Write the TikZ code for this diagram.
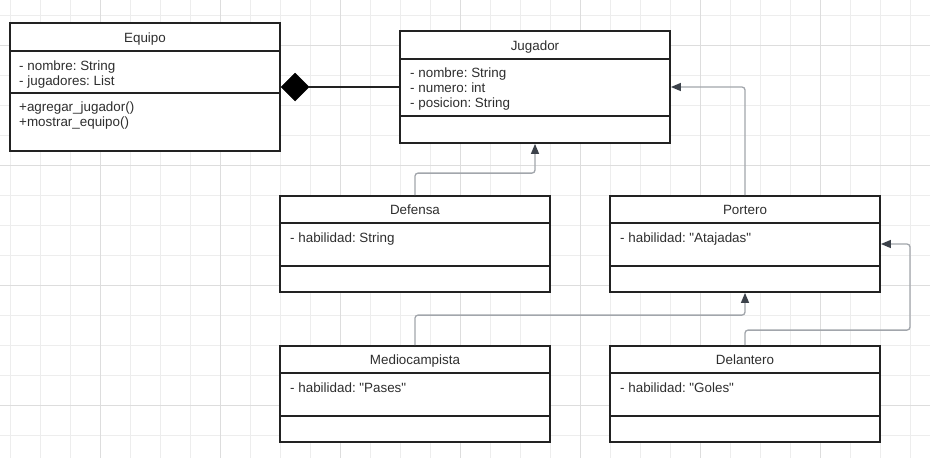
\documentclass[tikz,border=0pt]{standalone}
\usepackage{fontspec}
\setmainfont{Liberation Sans}[Ligatures=TeXOff]
\usetikzlibrary{shapes.geometric,arrows.meta}
\definecolor{gridminor}{HTML}{EDEDED}
\definecolor{gridmajor}{HTML}{DDDDDD}
\definecolor{boxline}{HTML}{222222}
\definecolor{txtcol}{HTML}{2E2E2E}
\definecolor{conncol}{HTML}{A2A6AC}
\definecolor{tipcol}{HTML}{3C424A}
\tikzset{
  cls/.style={draw=boxline, line width=1.8pt, fill=white, rectangle, inner sep=0pt, minimum width=270pt},
  divline/.style={draw=boxline, line width=1.8pt},
  txt/.style={text=txtcol, font=\fontsize{13.4}{15}\selectfont\frenchspacing, inner sep=0pt},
  conn/.style={draw=conncol, line width=1.3pt, rounded corners=3pt, -{Triangle[length=10pt,width=8pt,color=tipcol]}},
}
\begin{document}
\begin{tikzpicture}[x=1pt,y=-1pt]
\useasboundingbox (0,0) rectangle (930,458);
\fill[white] (0,0) rectangle (930,458);
% grid
\foreach \k in {0,...,30}{\draw[gridminor, line width=1pt] (10.5+30*\k,0) -- (10.5+30*\k,458);}
\foreach \k in {0,...,14}{\draw[gridminor, line width=1pt] (0,15+30*\k) -- (930,15+30*\k);}
\foreach \k in {3,7,...,27}{\draw[gridmajor, line width=1pt] (10.5+30*\k,0) -- (10.5+30*\k,458);}
\foreach \k in {1,5,9,13}{\draw[gridmajor, line width=1pt] (0,15+30*\k) -- (930,15+30*\k);}

% Equipo
\node[cls, minimum height=128pt] (equipo) at (145,87) {};
\draw[divline] (equipo.west |- 0,51) -- (equipo.east |- 0,51);
\draw[divline] (equipo.west |- 0,93) -- (equipo.east |- 0,93);
\node[txt, anchor=base] (equipoT) at (145,42) {Equipo};
\node[txt, anchor=base west] (equipoA1) at (19,70) {- nombre: String};
\node[txt, anchor=base west] (equipoA2) at (19,85) {- jugadores: List};
\node[txt, anchor=base west] (equipoM1) at (19,111) {+agregar\_jugador()};
\node[txt, anchor=base west] (equipoM2) at (19,126) {+mostrar\_equipo()};

% Jugador
\node[cls, minimum height=112pt] (jugador) at (535,87) {};
\draw[divline] (jugador.west |- 0,59) -- (jugador.east |- 0,59);
\draw[divline] (jugador.west |- 0,116) -- (jugador.east |- 0,116);
\node[txt, anchor=base] (jugadorT) at (535,50) {Jugador};
\node[txt, anchor=base west] (jugadorA1) at (410,77) {- nombre: String};
\node[txt, anchor=base west] (jugadorA2) at (410,92) {- numero: int};
\node[txt, anchor=base west] (jugadorA3) at (410,107) {- posicion: String};

% Defensa
\node[cls, minimum height=96pt] (defensa) at (415,244) {};
\draw[divline] (defensa.west |- 0,223) -- (defensa.east |- 0,223);
\draw[divline] (defensa.west |- 0,266) -- (defensa.east |- 0,266);
\node[txt, anchor=base] (defensaT) at (415,214) {Defensa};
\node[txt, anchor=base west] (defensaA) at (290,242) {- habilidad: String};

% Portero
\node[cls, minimum height=96pt] (portero) at (745,244) {};
\draw[divline] (portero.west |- 0,223) -- (portero.east |- 0,223);
\draw[divline] (portero.west |- 0,266) -- (portero.east |- 0,266);
\node[txt, anchor=base] (porteroT) at (745,214) {Portero};
\node[txt, anchor=base west] (porteroA) at (620,242) {- habilidad: "Atajadas"};

% Mediocampista
\node[cls, minimum height=96pt] (medio) at (415,394) {};
\draw[divline] (medio.west |- 0,373) -- (medio.east |- 0,373);
\draw[divline] (medio.west |- 0,416) -- (medio.east |- 0,416);
\node[txt, anchor=base] (medioT) at (415,364) {Mediocampista};
\node[txt, anchor=base west] (medioA) at (290,392) {- habilidad: "Pases"};

% Delantero
\node[cls, minimum height=96pt] (delantero) at (745,394) {};
\draw[divline] (delantero.west |- 0,373) -- (delantero.east |- 0,373);
\draw[divline] (delantero.west |- 0,416) -- (delantero.east |- 0,416);
\node[txt, anchor=base] (delanteroT) at (745,364) {Delantero};
\node[txt, anchor=base west] (delanteroA) at (620,392) {- habilidad: "Goles"};

% composition
\node[diamond, fill=black, draw=black, line width=0.5pt, aspect=1, minimum width=28pt, minimum height=28pt, inner sep=0pt] (comp) at (295,87) {};
\draw[boxline, line width=1.6pt] (comp.east) -- (jugador.west);

% generalizations
\draw[conn] (defensa.north) -- ++(0,-22) -| (jugador.south);
\draw[conn] (portero.north) |- (jugador.east);
\draw[conn] (medio.north) -- ++(0,-30) -| (portero.south);
\draw[conn] (delantero.north) -- ++(0,-15) -- ++(165,0) |- (portero.east);
\end{tikzpicture}
\end{document}
